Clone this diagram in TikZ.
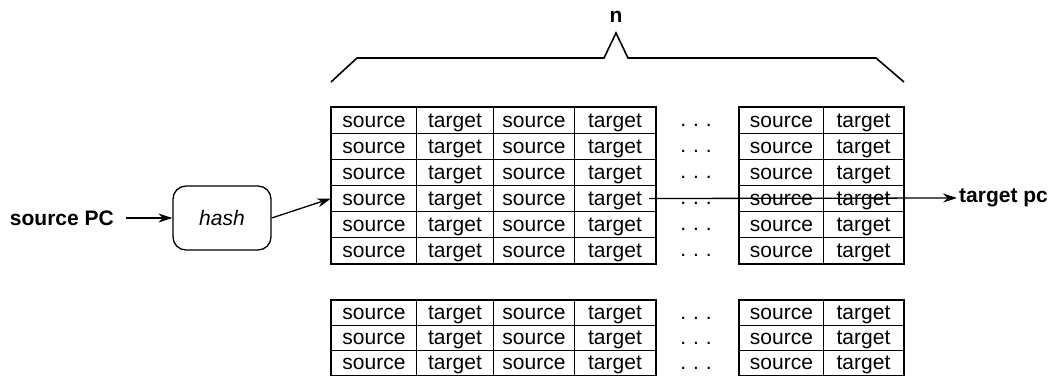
\documentclass[tikz,border=0pt]{standalone}
\usepackage{fontspec}
\setmainfont{Liberation Sans}
\usetikzlibrary{arrows.meta,positioning}
\newcommand{\cellfont}{\fontsize{21}{25}\selectfont}
\newcommand{\dotrow}{.\hspace{7pt}.\hspace{7pt}.}
\tikzset{
  cell/.style={rectangle, draw, line width=1pt, inner sep=0pt, anchor=north west,
               minimum height=26pt, font=\cellfont, text height=16pt, text depth=3pt},
  frame/.style={line width=1.8pt},
  dotsnode/.style={font=\cellfont, inner sep=0pt, anchor=base},
  lbl/.style={font=\cellfont\bfseries, inner sep=2pt},
  hashbox/.style={rectangle, rounded corners=13pt, draw, line width=1.3pt,
                  minimum width=98pt, minimum height=64pt, font=\cellfont\itshape},
  arr/.style={-{Stealth[length=14pt,width=9pt]}, line width=1.3pt},
  brace/.style={line width=1.6pt, line join=miter},
}
\begin{document}
\begin{tikzpicture}[x=1pt, y=-1pt]
  \fill[white] (0,0) rectangle (1055,375);
  \useasboundingbox (0,0) rectangle (1055,375);
  % upper table, six rows
  \foreach \r in {0,...,5}{
    \foreach \c/\x/\w/\t in {1/331/85/source, 2/416/77/target, 3/493/81/source,
                             4/574/81/target, 5/739/84/source, 6/823/80/target}
      \node[cell, minimum width=\w pt] (a\r\c) at (\x,107+26*\r) {\t};
    \node[dotsnode] (ad\r) at (696,126.5+26*\r) {\dotrow};
  }
  % lower table, cut off by the page
  \foreach \r in {0,...,2}{
    \foreach \c/\x/\w/\t in {1/331/85/source, 2/416/77/target, 3/493/81/source,
                             4/574/81/target, 5/739/84/source, 6/823/80/target}
      \node[cell, minimum width=\w pt, minimum height=25pt] (b\r\c) at (\x,300+25*\r) {\t};
    \node[dotsnode] (bd\r) at (696,319+25*\r) {\dotrow};
  }
  \draw[frame] (a01.north west) rectangle (a54.south east);
  \draw[frame] (a05.north west) rectangle (a56.south east);
  \draw[frame] (b01.north west) rectangle (b24.south east);
  \draw[frame] (b05.north west) rectangle (b26.south east);
  % brace over the n ways
  \draw[brace] ([yshift=25pt]a01.north west) -- ++(26,-24) -- (604,58) -- (616,33)
    -- (628,58) -- (876,58) -- ([yshift=25pt]a06.north east);
  \node[lbl] (n) at (616,17) {n};
  % lookup path
  \node[lbl, anchor=east] (srcpc) at (116,218) {source PC};
  \node[hashbox] (hash) at (222,218) {hash};
  \node[lbl, anchor=west] (tpc) at (957,198) {target pc};
  \draw[arr] ([xshift=10pt]srcpc.east) -- (hash.west);
  \draw[arr] (hash.east) -- (a31.west);
  \draw[arr] ([xshift=-7pt]a34.east) -- (tpc.west);
\end{tikzpicture}
\end{document}
